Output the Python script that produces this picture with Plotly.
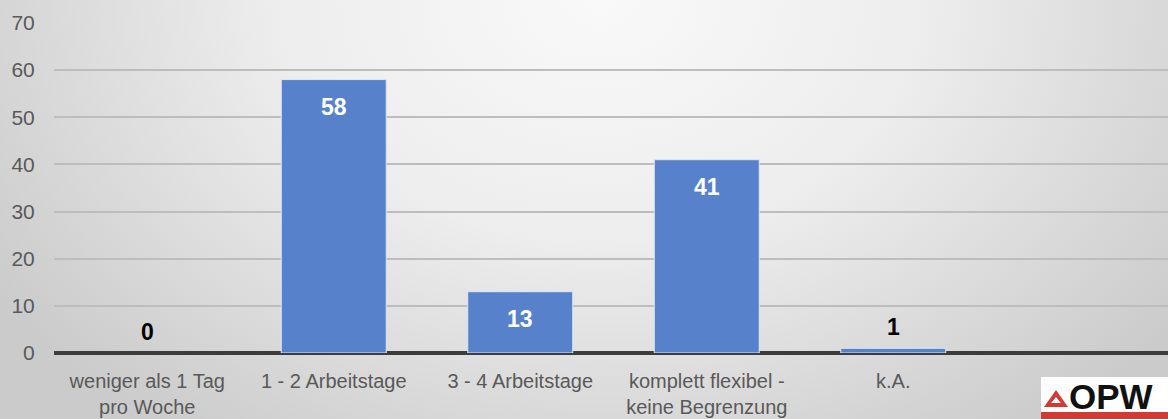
import base64
import plotly.graph_objects as go

# Survey: how many home-office days per week
categories = [
    "weniger als 1 Tag<br>pro Woche",
    "1 - 2 Arbeitstage",
    "3 - 4 Arbeitstage",
    "komplett flexibel -<br>keine Begrenzung",
    "k.A.",
]
counts = [0, 58, 13, 41, 1]
y_ticks = [0, 10, 20, 30, 40, 50, 60, 70]

W, H = 1168, 419
ML, MR, MT, MB = 54, 0, 23, 66
PW, PH = W - ML - MR, H - MT - MB
SLOT = 186.5  # pixel spacing between category centres


def px(x):
    return (x - ML) / PW


def py(y):
    return (H - MB - y) / PH


BAR = "#5881cb"
FONT = "Liberation Sans, Arial, sans-serif"

x_pos = list(range(len(categories)))

fig = go.Figure()
fig.add_trace(go.Bar(
    x=x_pos,
    y=counts,
    width=0.563,
    marker=dict(color=BAR,
                line=dict(color="#dfe7f6", width=[0 if v == 0 else 1 for v in counts])),
    hoverinfo="skip",
))

# value labels: white inside tall bars, black above tiny ones
for xi, v in zip(x_pos, counts):
    inside = v >= 5
    fig.add_annotation(
        x=xi, y=v, xref="x", yref="y",
        text=f"<b>{v}</b>", showarrow=False,
        yanchor="middle",
        yshift=-27.5 if inside else 21,
        font=dict(family=FONT, size=23, color="white" if inside else "black"),
    )

# soft radial backdrop
svg = f"""<svg xmlns='http://www.w3.org/2000/svg' width='{W}' height='{H}' viewBox='0 0 {W} {H}' preserveAspectRatio='none'>
<defs><radialGradient id='g' gradientUnits='userSpaceOnUse' cx='600' cy='0' r='720' gradientTransform='scale(1 0.75)'>
<stop offset='0' stop-color='#f9f9f9'/><stop offset='0.45' stop-color='#ededed'/><stop offset='1' stop-color='#cbcbcb'/>
</radialGradient></defs>
<rect width='{W}' height='{H}' fill='url(#g)'/></svg>"""
src = "data:image/svg+xml;base64," + base64.b64encode(svg.encode()).decode()
fig.add_layout_image(
    source=src, xref="paper", yref="paper",
    x=px(0), y=py(0), sizex=W / PW, sizey=H / PH,
    xanchor="left", yanchor="top", sizing="stretch", layer="below",
)

# corner logo
fig.add_shape(type="rect", xref="paper", yref="paper",
              x0=px(1041), x1=px(1170), y0=py(419), y1=py(377),
              fillcolor="white", line=dict(width=0), layer="above")
fig.add_shape(type="rect", xref="paper", yref="paper",
              x0=px(1041), x1=px(1170), y0=py(419), y1=py(412),
              fillcolor="#d23a33", line=dict(width=0), layer="above")
fig.add_shape(type="path", xref="paper", yref="paper",
              path=(f"M {px(1044)} {py(407)} L {px(1056)} {py(390)} L {px(1068)} {py(407)} Z "
                    f"M {px(1051)} {py(403)} L {px(1056)} {py(397)} L {px(1061)} {py(403)} Z"),
              fillcolor="#d23a33", line=dict(width=0), layer="above")
fig.add_annotation(x=px(1067), y=py(396), xref="paper", yref="paper",
                   text="<b>OPW</b>", showarrow=False, xanchor="left", yanchor="middle",
                   font=dict(family=FONT, size=35, color="#111111"))

fig.update_layout(
    width=W, height=H,
    margin=dict(l=ML, r=MR, t=MT, b=MB, pad=0, autoexpand=False),
    paper_bgcolor="#d8d8d8",
    plot_bgcolor="rgba(0,0,0,0)",
    showlegend=False,
    font=dict(family=FONT, color="#595959"),
)
fig.update_xaxes(
    tickmode="array", tickvals=x_pos, ticktext=categories,
    range=[-0.5, -0.5 + PW / SLOT],
    automargin=False,
    showgrid=False, showline=False, zeroline=False,
    ticks="outside", ticklen=10, tickcolor="rgba(0,0,0,0)",
    tickfont=dict(family=FONT, size=20, color="#595959"),
    tickangle=0,
)
fig.update_yaxes(
    range=[0, 70], tickvals=y_ticks,
    automargin=False,
    showgrid=True, gridcolor="#bdbdbd", gridwidth=1.5,
    zeroline=True, zerolinecolor="#3c3c3c", zerolinewidth=3.5,
    showline=False,
    ticks="outside", ticklen=14, tickcolor="rgba(0,0,0,0)",
    tickfont=dict(family=FONT, size=21, color="#595959"),
)

fig.write_html("out.html")
